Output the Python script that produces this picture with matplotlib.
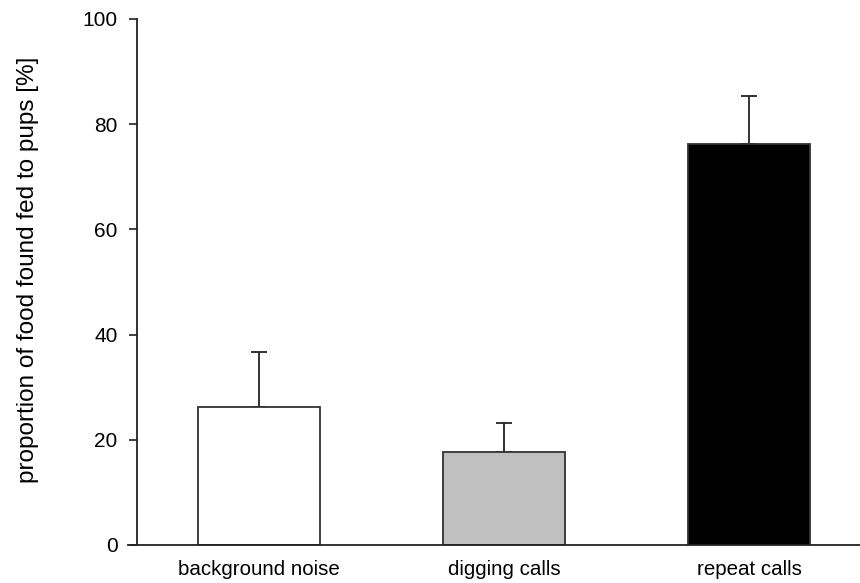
import matplotlib
matplotlib.use('Agg')
import matplotlib.pyplot as plt

plt.rcParams['font.family'] = ['Liberation Sans', 'DejaVu Sans']

groups = ['background noise', 'digging calls', 'repeat calls']
means = [26.2, 17.6, 76.3]
sem = [10.4, 5.6, 9.1]
fills = ['white', '#c0c0c0', 'black']
yticks = [0, 20, 40, 60, 80, 100]

fig = plt.figure(figsize=(8.6, 5.83), dpi=100)
ax = fig.add_axes([128/860, 1 - 545/583, 1 - 128/860, (545 - 19)/583])

x = range(len(groups))
ax.bar(x, means, width=0.5, color=fills, edgecolor='#333333', linewidth=1.3, zorder=2)
ax.errorbar(x, means, yerr=[[0]*len(sem), sem], fmt='none', ecolor='#222222',
            elinewidth=1.3, capsize=5.8, capthick=1.3, zorder=1)

ax.set_xlim(-0.535, 2.453)
ax.set_ylim(0, 100)
ax.set_yticks(yticks)
ax.set_xticks(list(x))
ax.set_xticklabels(groups, fontsize=14.8)
ax.tick_params(axis='x', length=0, pad=11)
ax.tick_params(axis='y', direction='out', length=6, width=1.2, labelsize=15, pad=8, color='#222222')

for s in ['top', 'right']:
    ax.spines[s].set_visible(False)
ax.spines['left'].set_position(('data', -0.498))
ax.spines['left'].set_bounds(0, 100)
for s in ['left', 'bottom']:
    ax.spines[s].set_linewidth(1.3)
    ax.spines[s].set_color('#222222')

fig.text(28/860, 1 - 270/583, 'proportion of food found fed to pups [%]',
         rotation=90, ha='center', va='center', fontsize=17.5)

fig.savefig('out.png', dpi=100)
